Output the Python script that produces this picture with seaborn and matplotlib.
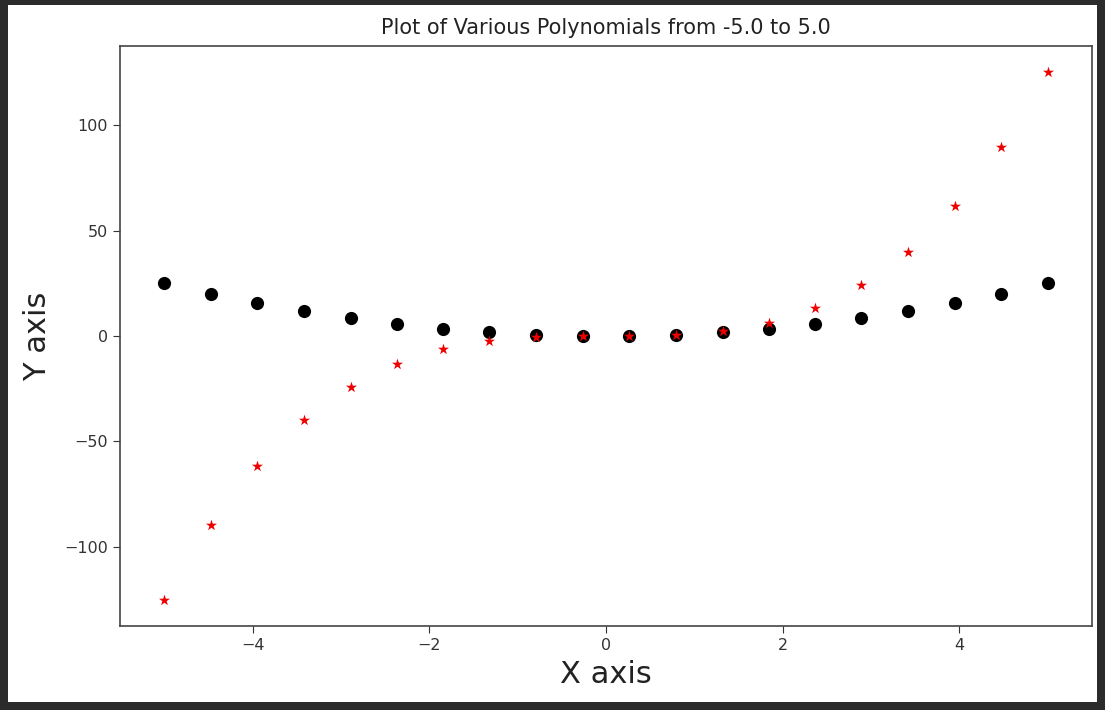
import matplotlib
matplotlib.use("Agg")
import matplotlib.pyplot as plt
import seaborn as sns
import pandas as pd
from matplotlib.patches import Rectangle

# Data
x_values = [-5.00, -4.47, -3.95, -3.42, -2.89, -2.37, -1.84, -1.32, -0.79, -0.26,
            0.26, 0.79, 1.32, 1.84, 2.37, 2.89, 3.42, 3.95, 4.47, 5.00]
square_values = [25.0, 20.0, 15.6, 11.7, 8.4, 5.6, 3.4, 1.7, 0.6, 0.07,
                 0.07, 0.6, 1.7, 3.4, 5.6, 8.4, 11.7, 15.6, 20.0, 25.0]
cube_values = [-125.0, -89.5, -61.5, -40.0, -24.3, -13.3, -6.2, -2.3, -0.5, -0.02,
               0.02, 0.5, 2.3, 6.2, 13.3, 24.3, 40.0, 61.5, 89.5, 125.0]
x_ticks = [-4, -2, 0, 2, 4]
y_ticks = [-100, -50, 0, 50, 100]

df_sq = pd.DataFrame({"x": x_values, "y": square_values})
df_cu = pd.DataFrame({"x": x_values, "y": cube_values})

W, H = 1105, 710
fig = plt.figure(figsize=(W / 100, H / 100), dpi=100, facecolor="#2b2b2b")
# white screenshot area
fig.patches.append(Rectangle((8 / W, 8 / H), (W - 16) / W, (H - 13) / H,
                             transform=fig.transFigure, facecolor="white",
                             edgecolor="none", zorder=-10))
ax = fig.add_axes([120 / W, 1 - 626 / H, (1092 - 120) / W, (626 - 46) / H])

sns.scatterplot(data=df_sq, x="x", y="y", ax=ax, color="black", marker="o",
                s=90, linewidth=0, zorder=2)
sns.scatterplot(data=df_cu, x="x", y="y", ax=ax, color="#ee0000", marker="*",
                s=70, linewidth=0, zorder=3)

ax.set_xticks(x_ticks)
ax.set_yticks(y_ticks)
ax.set_xticklabels([f"\u2212{abs(t)}" if t < 0 else str(t) for t in x_ticks])
ax.set_yticklabels([f"\u2212{abs(t)}" if t < 0 else str(t) for t in y_ticks])
ax.tick_params(labelsize=11.5, length=5, color="#333333", labelcolor="#333333")
for sp in ax.spines.values():
    sp.set_color("#444444")
    sp.set_linewidth(1.2)

ax.set_title("Plot of Various Polynomials from -5.0 to 5.0", fontsize=15,
             color="#222222", pad=9)
ax.set_xlabel("X axis", fontsize=22, color="#222222", labelpad=5)
ax.set_ylabel("Y axis", fontsize=22, color="#222222", labelpad=9)

fig.savefig("out.png", dpi=100, facecolor=fig.get_facecolor())
